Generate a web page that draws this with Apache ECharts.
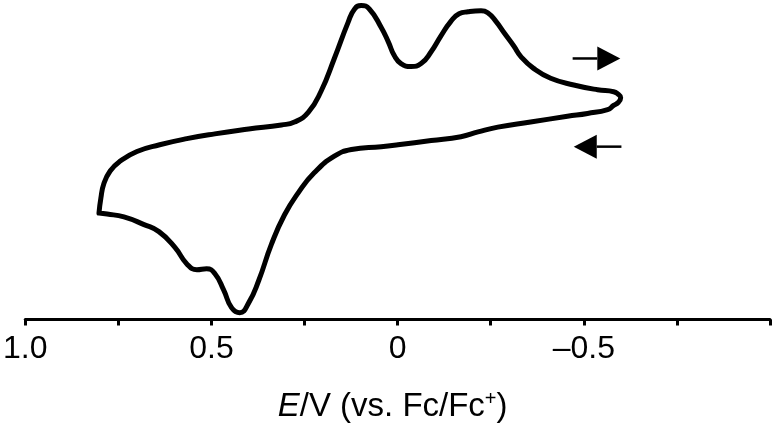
<!DOCTYPE html>
<html>
<head>
<meta charset="utf-8">
<script src="https://cdn.jsdelivr.net/npm/echarts@6/dist/echarts.min.js"></script>
<style>
html,body{margin:0;padding:0;background:#fff;}
#chart{width:776px;height:428px;}
</style>
</head>
<body>
<div id="chart"></div>
<script>
// Cyclic voltammogram (closed loop), potential in V vs Fc/Fc+, current in arbitrary units
const potential = [
  0.802, 0.797, 0.789, 0.772, 0.746, 0.700, 0.639, 0.566, 0.491, 0.400,
  0.312, 0.277, 0.240, 0.205, 0.170, 0.133, 0.116, 0.098, 0.076, 0.044,
  0.025, 0.009, -0.009, -0.036, -0.063, -0.090, -0.116, -0.143, -0.165, -0.189,
  -0.224, -0.242, -0.264, -0.285, -0.312, -0.331, -0.365, -0.411, -0.473, -0.537,
  -0.580, -0.591, -0.599,
  -0.593, -0.580, -0.564, -0.510, -0.456, -0.357, -0.269, -0.216, -0.170, -0.090,
  -0.001, 0.044, 0.124, 0.170, 0.224, 0.266, 0.304, 0.339, 0.373, 0.400,
  0.424, 0.446, 0.467, 0.491, 0.513, 0.539, 0.566, 0.598, 0.641, 0.681,
  0.735, 0.780, 0.802
];
const current = [
  33.3, 37.9, 42.5, 46.5, 49.5, 52.6, 54.7, 56.6, 58.1, 59.6,
  60.9, 61.8, 64.8, 71.6, 81.7, 93.0, 97.1, 98.3, 97.2, 91.4,
  86.9, 82.6, 80.1, 79.2, 80.1, 83.8, 88.7, 93.3, 95.7, 96.3,
  96.6, 96.0, 93.3, 89.9, 85.6, 82.3, 78.6, 75.5, 73.4, 71.9,
  71.3, 70.6, 69.4,
  68.0, 67.0, 65.7, 64.5, 63.6, 61.8, 60.2, 58.7, 57.2, 56.0,
  54.7, 54.1, 53.2, 51.1, 45.9, 39.8, 32.7, 23.5, 12.2, 5.2,
  2.1, 3.7, 9.2, 14.4, 15.9, 15.6, 17.4, 22.6, 27.5, 29.7,
  32.1, 33.0, 33.3
];
// Scan-direction arrows: start potential, tip potential, current level
const arrowFrom = [-0.470, -0.601];
const arrowTo = [-0.598, -0.473];
const arrowLevel = [81.7, 54.1];
// Tick labels shown on the potential axis
const tickLabels = {'1': '1.0', '0.5': '0.5', '0': '0', '-0.5': '\u20130.5'};

const loop = potential.map((v, i) => [v, current[i]]);
const arrows = arrowFrom.map((v, i) => [v, arrowTo[i], arrowLevel[i]]);

const FONT = 'Liberation Sans, Arial, sans-serif';
const chart = echarts.init(document.getElementById('chart'), null, {renderer: 'canvas'});
chart.setOption({
  animation: false,
  backgroundColor: '#ffffff',
  grid: {left: 23, right: 6, top: 0, bottom: 101, containLabel: false},
  xAxis: {
    type: 'value',
    min: -1, max: 1, interval: 0.25,
    inverse: true,
    axisLine: {show: true, onZero: false, lineStyle: {color: '#000', width: 3}},
    axisTick: {show: true, inside: false, length: 6, lineStyle: {color: '#000', width: 3}},
    splitLine: {show: false},
    axisLabel: {
      show: true, margin: 14, color: '#000', fontSize: 32, fontFamily: FONT,
      showMinLabel: true, showMaxLabel: true, hideOverlap: false,
      formatter: function (v) {
        const k = String(Math.round(v * 100) / 100);
        return tickLabels[k] !== undefined ? tickLabels[k] : '';
      }
    },
    name: '{i|E}/V (vs. Fc/Fc{sup|+})',
    nameLocation: 'middle',
    nameGap: 70,
    nameTextStyle: {
      color: '#000', fontSize: 33, fontFamily: FONT, padding: [0, 10, 0, 0],
      rich: {
        i: {fontStyle: 'italic', fontSize: 33, color: '#000', fontFamily: FONT},
        sup: {fontSize: 20, color: '#000', padding: [0, 0, 14, 0], fontFamily: FONT}
      }
    }
  },
  yAxis: {
    type: 'value', min: 0, max: 100, show: false,
    splitLine: {show: false}
  },
  series: [
    {
      type: 'line',
      data: loop,
      showSymbol: false,
      symbol: 'none',
      smooth: 0.5,
      clip: false,
      lineStyle: {color: '#000', width: 5, join: 'round', cap: 'round'}
    },
    {
      type: 'custom',
      data: arrows,
      encode: {x: [0, 1], y: 2},
      clip: false,
      renderItem: function (params, api) {
        const p1 = api.coord([api.value(0), api.value(2)]);
        const p2 = api.coord([api.value(1), api.value(2)]);
        const dir = p2[0] > p1[0] ? 1 : -1;
        const headLen = 23, headHalf = 12;
        const base = p2[0] - dir * headLen;
        return {
          type: 'group',
          children: [
            {type: 'line', shape: {x1: p1[0], y1: p1[1], x2: base, y2: p2[1]},
             style: {stroke: '#000', lineWidth: 2.5}},
            {type: 'polygon', shape: {points: [[p2[0], p2[1]], [base, p2[1] - headHalf], [base, p2[1] + headHalf]]},
             style: {fill: '#000'}}
          ]
        };
      }
    }
  ]
});
</script>
</body>
</html>
